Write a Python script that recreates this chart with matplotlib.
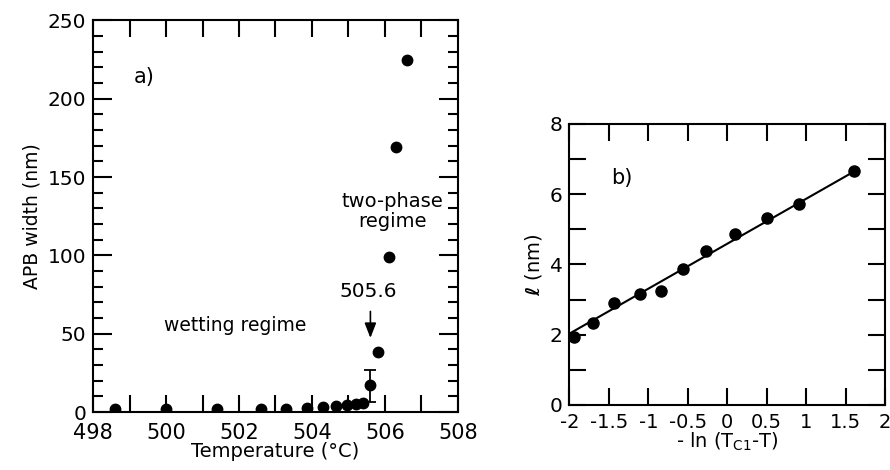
import matplotlib
matplotlib.use('Agg')
import matplotlib.pyplot as plt
from matplotlib.ticker import MultipleLocator

plt.rcParams['font.family'] = ['DejaVu Sans']
plt.rcParams['axes.unicode_minus'] = False
plt.rcParams['mathtext.fontset'] = 'custom'
plt.rcParams['mathtext.rm'] = 'DejaVu Sans'
plt.rcParams['mathtext.it'] = 'DejaVu Sans:italic'
plt.rcParams['mathtext.bf'] = 'DejaVu Sans:bold'

# (a) APB width vs temperature
temperatura = [498.6, 500.0, 501.4, 502.6, 503.3, 503.85, 504.3, 504.65,
               504.95, 505.2, 505.4, 505.6, 505.8, 506.1, 506.3, 506.6]
ancho_apb = [2, 2, 2, 2, 2, 2.5, 3.5, 4, 4.5, 5, 5.5, 17, 38.5, 99, 169, 225]
# error bar only on the 505.6 point
err_t = [505.6]
err_w = [17]
err_low = [10.5]
err_up = [9.8]

# (b) l vs -ln(Tc1 - T)
ln_x = [-1.94, -1.70, -1.43, -1.10, -0.84, -0.56, -0.27, 0.10, 0.51, 0.91, 1.61]
ell = [1.93, 2.34, 2.90, 3.15, 3.25, 3.87, 4.37, 4.86, 5.32, 5.72, 6.65]
recta_x = [-2.0, 1.61]
recta_y = [2.03, 6.65]
etiquetas_b = ['-2', '-1.5', '-1', '-0.5', '0', '0.5', '1', '1.5', '2']

fig = plt.figure(figsize=(8.9, 4.7), dpi=100)
ax1 = fig.add_axes([0.1045, 0.1234, 0.4101, 0.833])
ax2 = fig.add_axes([0.6397, 0.1383, 0.3547, 0.5979])

for ax in [ax1, ax2]:
    for s in ax.spines.values():
        s.set_linewidth(1.5)
    ax.tick_params(which='both', direction='in', top=True, right=True, width=1.5)

# --- panel a ---
ax1.plot(temperatura, ancho_apb, 'o', color='black', markersize=7.5)
ax1.errorbar(err_t, err_w, yerr=[err_low, err_up], fmt='none', ecolor='black',
             elinewidth=1.3, capsize=4, capthick=1.3)
ax1.set_xlim(498, 508)
ax1.set_ylim(0, 250)
ax1.xaxis.set_major_locator(MultipleLocator(2))
ax1.xaxis.set_minor_locator(MultipleLocator(1))
ax1.yaxis.set_major_locator(MultipleLocator(50))
ax1.yaxis.set_minor_locator(MultipleLocator(10))
ax1.tick_params(axis='x', which='both', length=12)
ax1.tick_params(axis='y', which='major', length=14)
ax1.tick_params(axis='y', which='minor', length=7)
ax1.tick_params(axis='x', labelsize=15, pad=8)
ax1.tick_params(axis='y', labelsize=14.5, pad=5)
ax1.set_xlabel('Temperature (°C)', fontsize=14, labelpad=-1)
ax1.set_ylabel('APB width (nm)', fontsize=13.5, labelpad=4)

ax1.text(499.4, 214, 'a)', fontsize=15, ha='center', va='center')
ax1.text(506.2, 128, 'two-phase\nregime', fontsize=14, ha='center', va='center',
         linespacing=1.05)
ax1.text(501.9, 55.5, 'wetting regime', fontsize=13.5, ha='center', va='center')
ax1.text(505.55, 77, '505.6', fontsize=14.5, ha='center', va='center')
ax1.annotate('', xy=(505.6, 45.5), xytext=(505.6, 66),
             arrowprops=dict(arrowstyle='-|>,head_length=0.9,head_width=0.35',
                             color='black', lw=1.2))

# --- panel b ---
ax2.plot(recta_x, recta_y, '-', color='black', lw=1.5)
ax2.plot(ln_x, ell, 'o', color='black', markersize=8)
ax2.set_xlim(-2, 2)
ax2.set_ylim(0, 8)
ax2.set_xticks([-2, -1.5, -1, -0.5, 0, 0.5, 1, 1.5, 2])
ax2.set_xticklabels(etiquetas_b)
ax2.yaxis.set_major_locator(MultipleLocator(2))
ax2.yaxis.set_minor_locator(MultipleLocator(1))
ax2.tick_params(which='both', length=12)
ax2.tick_params(axis='x', labelsize=14, pad=6)
ax2.tick_params(axis='y', labelsize=14.5, pad=5)
ax2.set_xlabel(r'- ln (T$_{\mathrm{C1}}$-T)', fontsize=14, labelpad=-1)
ax2.set_ylabel(r'$\boldsymbol{\ell}$ (nm)', fontsize=14, labelpad=4)
ax2.text(-1.34, 6.46, 'b)', fontsize=15, ha='center', va='center')

plt.savefig('out.png', dpi=100)
plt.close()
